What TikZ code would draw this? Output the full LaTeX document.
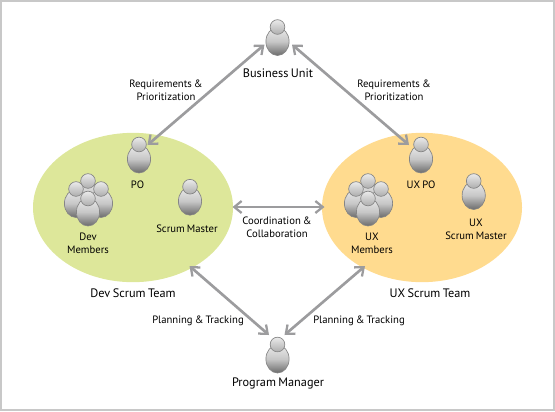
\documentclass[tikz,border=0pt]{standalone}
\usepackage{fontspec}
\setmainfont[WordSpace=0.75]{PT Sans}
\usetikzlibrary{arrows.meta,shapes.geometric}
\definecolor{frameg}{HTML}{C8C8C8}
\definecolor{teamgreen}{HTML}{DDE79A}
\definecolor{teamorange}{HTML}{FFDB8F}
\definecolor{linkg}{HTML}{9C9C9E}
\definecolor{edgeg}{HTML}{858585}
\tikzset{
  team/.style={shape=ellipse,inner sep=0pt,minimum width=150pt,minimum height=112pt},
  body/.style={shape=ellipse,inner sep=0pt,minimum width=17.4pt,minimum height=21pt,draw=edgeg,line width=.5pt,
    top color=white!92!black,bottom color=black!58,middle color=black!22},
  head/.style={shape=circle,inner sep=0pt,minimum size=11pt,draw=edgeg,line width=.5pt,
    top color=white!92!black,bottom color=black!32},
  lab/.style={inner sep=0pt,align=center,font=\fontsize{8}{9.9}\selectfont,text=black},
  biglab/.style={inner sep=0pt,align=center,font=\fontsize{9.2}{10.5}\selectfont,text=black},
  link/.style={draw=linkg,line width=2pt,{Straight Barb[length=5.5pt,width=9pt,line width=1.7pt]}-{Straight Barb[length=5.5pt,width=9pt,line width=1.7pt]},shorten <=0pt,shorten >=0pt}
}
\newcommand{\onePerson}[3]{% name, x, y = head centre
  \node[body] (#1b) at (#2,#3+14.5) {};
  \node[head] (#1h) at (#2,#3) {};
}
\newcommand{\memberGroup}[3]{% name, x, y = top head centre
  \node[body] (#1tb) at (#2,#3+14.5) {};
  \node[head] (#1th) at (#2,#3) {};
  \node[body] (#1lb) at (#2-12,#3+22.5) {};
  \node[body] (#1rb) at (#2+13,#3+22.5) {};
  \node[head] (#1lh) at (#2-12,#3+8) {};
  \node[head] (#1rh) at (#2+13,#3+8) {};
  \node[body] (#1fb) at (#2,#3+31) {};
  \node[head] (#1fh) at (#2,#3+17.5) {};
}
\begin{document}
\begin{tikzpicture}[x=.75pt,y=-.75pt]
\useasboundingbox (0,0) rectangle (555,411);
\node[draw=frameg,line width=1.5pt,minimum width=414.75pt,minimum height=306.75pt,inner sep=0pt] (frame) at (277.5,205.5) {};
\node[team,fill=teamgreen] (devteam) at (133,207.5) {};
\node[team,fill=teamorange] (uxteam) at (422,207.5) {};

\onePerson{bu}{277.5}{27}
\onePerson{po}{139}{144.5}
\onePerson{sm}{190}{186.7}
\onePerson{uxpo}{421}{144.5}
\onePerson{uxsm}{473.7}{181}
\onePerson{pm}{277.5}{344.5}
\memberGroup{dev}{88}{181}
\memberGroup{ux}{368}{181}

\node[biglab] (tbu) at (278,73.5) {Business Unit};
\node[lab] (treql) at (166,90) {Requirements \&\\Prioritization};
\node[lab] (treqr) at (394,90) {Requirements \&\\Prioritization};
\node[lab] (tpo) at (137.5,185) {PO};
\node[lab] (tuxpo) at (421,185) {UX PO};
\node[lab] (tsm) at (187,228.5) {Scrum Master};
\node[lab] (tdev) at (88,243.5) {Dev\\Members};
\node[lab] (tux) at (372,243.5) {UX\\Members};
\node[lab] (tuxsm) at (476,229.5) {UX\\Scrum Master};
\node[lab] (tcoord) at (277,227) {Coordination \&\\Collaboration};
\node[biglab] (tdevteam) at (133,293) {Dev Scrum Team};
\node[biglab] (tuxteam) at (430,293) {UX Scrum Team};
\node[lab] (tpl) at (198,320.5) {Planning \& Tracking};
\node[lab] (tpr) at (359,320.5) {Planning \& Tracking};
\node[biglab] (tpm) at (278,383.5) {Program Manager};

\coordinate (a1) at (264.5,44.5);
\coordinate (a2) at (147.5,145);
\coordinate (b1) at (292,44.5);
\coordinate (b2) at (409,145);
\coordinate (c1) at (232.5,207);
\coordinate (c2) at (324.5,207);
\coordinate (d1) at (189.5,266);
\coordinate (d2) at (269,335);
\coordinate (e1) at (365,266);
\coordinate (e2) at (284.5,335);
\draw[link] (a1) -- (a2);
\draw[link] (b1) -- (b2);
\draw[link] (c1) -- (c2);
\draw[link] (d1) -- (d2);
\draw[link] (e1) -- (e2);
\end{tikzpicture}
\end{document}
